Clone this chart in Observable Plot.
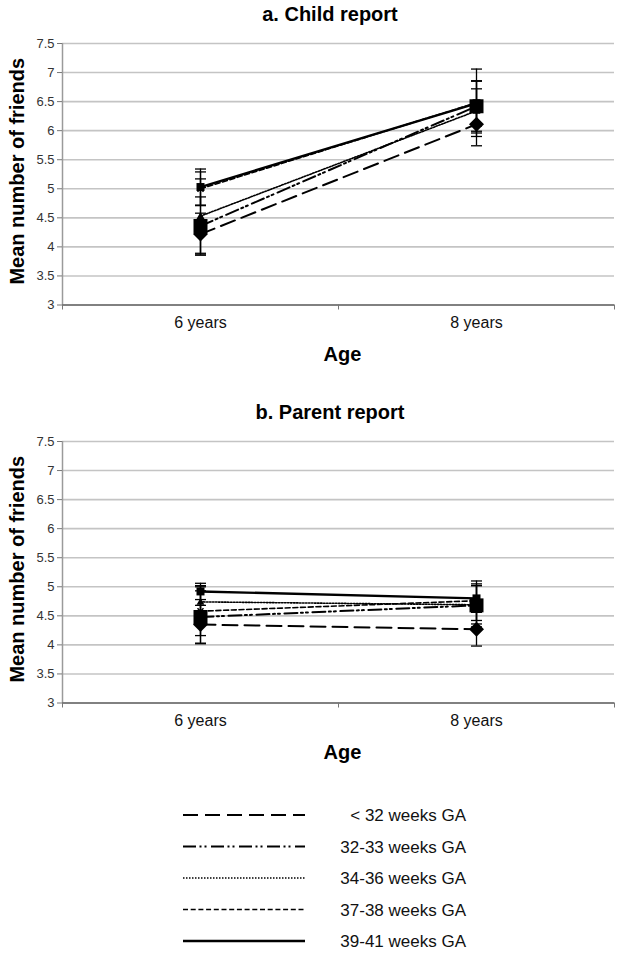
<!DOCTYPE html>
<html>
<head>
<meta charset="utf-8">
<script src="https://cdn.jsdelivr.net/npm/d3@7"></script>
<script src="https://cdn.jsdelivr.net/npm/@observablehq/plot@0.6"></script>
<style>
  html, body { margin: 0; padding: 0; background: #fff; }
  body { width: 618px; height: 955px; overflow: hidden; font-family: "Liberation Sans", Arial, sans-serif; }
  .title { height: 28px; line-height: 28px; font-size: 20px; font-weight: bold; text-align: center; padding-left: 42px; box-sizing: border-box; width: 618px; color: #000; }
  svg { display: block; }
</style>
</head>
<body>
<div class="title" id="titleA"></div>
<div id="panelA"></div>
<div class="title" id="titleB"></div>
<div id="panelB"></div>
<div id="legend"></div>
<script>
// ---------- data ----------
const panelTitles = ["a. Child report", "b. Parent report"];
const ages = ["6 years", "8 years"];
const groups = ["< 32 weeks GA", "32-33 weeks GA", "34-36 weeks GA", "37-38 weeks GA", "39-41 weeks GA"];
const childMean6 = [4.22, 4.36, 4.53, 5.00, 5.03];
const childMean8 = [6.11, 6.42, 6.34, 6.48, 6.47];
const childErr6  = [0.36, 0.50, 0.64, 0.29, 0.31];
const childErr8  = [0.37, 0.43, 0.38, 0.58, 0.39];
const parentMean6 = [4.35, 4.48, 4.74, 4.58, 4.92];
const parentMean8 = [4.27, 4.68, 4.69, 4.76, 4.80];
const parentErr6  = [0.33, 0.45, 0.28, 0.42, 0.14];
const parentErr8  = [0.29, 0.37, 0.33, 0.34, 0.22];
const yTicks = [3, 3.5, 4, 4.5, 5, 5.5, 6, 6.5, 7, 7.5];
const yLabel = "Mean number of friends";
const xLabel = "Age";

// ---------- styles ----------
const dashes = ["15,7", "13,3.5,2,3,2,4.5", "1.5,1.5", "5,2.7", null];
const widths = [2, 2, 1.6, 1.6, 2.4];
const symDiamond = {draw(c, s) { const h = Math.sqrt(s / Math.PI); c.moveTo(0, -h); c.lineTo(h, 0); c.lineTo(0, h); c.lineTo(-h, 0); c.closePath(); }};
const symSquare = {draw(c, s) { const h = Math.sqrt(s / Math.PI); c.rect(-h, -h, 2 * h, 2 * h); }};
const symTriangle = {draw(c, s) { const h = Math.sqrt(s / Math.PI); c.moveTo(0, -h); c.lineTo(h, h * 0.7); c.lineTo(-h, h * 0.7); c.closePath(); }};
const symX = {draw(c, s) { const h = Math.sqrt(s / Math.PI); c.moveTo(-h, -h); c.lineTo(h, h); c.moveTo(h, -h); c.lineTo(-h, h); }};
const symCap = {draw(c, s) { const h = Math.sqrt(s / Math.PI); c.moveTo(-h, 0); c.lineTo(h, 0); }};
const markers = [
  {symbol: symDiamond, r: 7.5, fill: "black", stroke: "none"},
  {symbol: symSquare, r: 7, fill: "black", stroke: "none"},
  {symbol: symTriangle, r: 4, fill: "black", stroke: "none"},
  {symbol: symX, r: 3, fill: "none", stroke: "black"},
  {symbol: symSquare, r: 4, fill: "black", stroke: "none"}
];
const FONT = "Liberation Sans, Arial, sans-serif";

function rows(m6, m8, e6, e8) {
  const out = [];
  groups.forEach((g, i) => {
    [[m6, e6], [m8, e8]].forEach(([m, e], a) => {
      out.push({group: g, gi: i, age: ages[a], x: a + 0.5, mean: m[i], lo: m[i] - e[i], hi: m[i] + e[i]});
    });
  });
  return out;
}

function panel(data) {
  const marks = [
    Plot.gridY(yTicks, {stroke: "#c4c4c4", strokeOpacity: 1, strokeWidth: 1.6}),
    Plot.ruleX([0], {stroke: "#9a9a9a", strokeWidth: 1.5}),
    Plot.ruleY([3], {stroke: "#666", strokeWidth: 1.5}),
    Plot.axisY({ticks: yTicks, tickSize: 5, tickPadding: 3, tickFormat: d => String(d), fontSize: 13, stroke: "#777", fill: "#333", label: null}),
    Plot.axisX({ticks: [0, 1, 2], tickSize: 5, tickFormat: () => "", stroke: "#777", label: null}),
    Plot.axisX({ticks: [0.5, 1.5], tickSize: 0, tickPadding: 12, tickFormat: d => ages[Math.floor(d)], fontSize: 16, fill: "#111", label: null}),
    Plot.text([xLabel], {frameAnchor: "bottom", dy: 56, dx: 4, fontSize: 20, fontWeight: "bold", fill: "black"}),
    Plot.text([yLabel], {frameAnchor: "left", textAnchor: "middle", rotate: -90, dx: -45, dy: -3, fontSize: 20, fontWeight: "bold", fill: "black"}),
    Plot.ruleX(data, {x: "x", y1: "lo", y2: "hi", stroke: "black", strokeWidth: 1.3}),
    Plot.dot(data, {x: "x", y: "lo", symbol: symCap, r: 5.5, stroke: "black", fill: "none", strokeWidth: 1.3}),
    Plot.dot(data, {x: "x", y: "hi", symbol: symCap, r: 5.5, stroke: "black", fill: "none", strokeWidth: 1.3})
  ];
  groups.forEach((g, i) => {
    const d = data.filter(r => r.gi === i);
    marks.push(Plot.line(d, {x: "x", y: "mean", stroke: "black", strokeWidth: widths[i], strokeDasharray: dashes[i] || undefined}));
  });
  groups.forEach((g, i) => {
    const d = data.filter(r => r.gi === i);
    const mk = markers[i];
    marks.push(Plot.dot(d, {x: "x", y: "mean", symbol: mk.symbol, r: mk.r, fill: mk.fill, stroke: mk.stroke, strokeWidth: 1.5}));
  });
  return Plot.plot({
    width: 618,
    height: 370,
    marginLeft: 62,
    marginRight: 4,
    marginTop: 15,
    marginBottom: 93.5,
    style: {fontFamily: FONT, fontSize: "13px", background: "white", color: "#333", overflow: "visible"},
    x: {type: "linear", domain: [0, 2], label: null},
    y: {domain: [3, 7.5], label: null},
    marks
  });
}

document.getElementById("titleA").textContent = panelTitles[0];
document.getElementById("titleB").textContent = panelTitles[1];
document.getElementById("panelA").append(panel(rows(childMean6, childMean8, childErr6, childErr8)));
document.getElementById("panelB").append(panel(rows(parentMean6, parentMean8, parentErr6, parentErr8)));

// ---------- legend ----------
const lg = d3.select("#legend").append("svg").attr("width", 618).attr("height", 159)
  .style("font-family", FONT);
groups.forEach((g, i) => {
  const y = 19 + i * 31.5;
  const line = lg.append("line").attr("x1", 183).attr("x2", 305).attr("y1", y).attr("y2", y)
    .attr("stroke", "black").attr("stroke-width", widths[i]);
  if (dashes[i]) line.attr("stroke-dasharray", dashes[i]);
  lg.append("text").attr("x", 466).attr("y", y).attr("dy", "0.36em").attr("text-anchor", "end")
    .attr("font-size", 17).attr("fill", "#111").text(g);
});
</script>
</body>
</html>
